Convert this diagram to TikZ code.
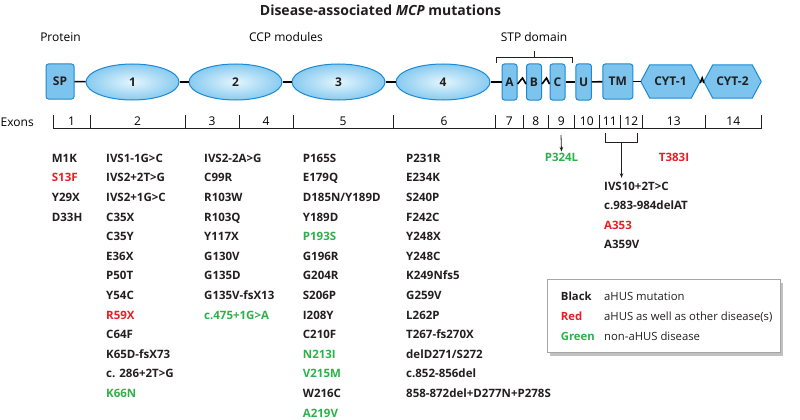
\documentclass[tikz,border=0pt]{standalone}
\usepackage{fontspec}
\setmainfont{Open Sans}
\usetikzlibrary{shapes.geometric,shadows,arrows.meta,backgrounds}
\definecolor{txt}{HTML}{231F20}
\definecolor{mred}{HTML}{ED1C24}
\definecolor{mgreen}{HTML}{2DB24A}
\definecolor{bline}{HTML}{1B8AD3}
\definecolor{bfill}{HTML}{7CC4EE}
\definecolor{ein}{HTML}{E4F5FD}
\definecolor{eout}{HTML}{88CBF0}
\begin{document}
\begin{tikzpicture}[x=1pt,y=-1pt,
  mut/.style={anchor=west,inner sep=0pt,text height=8pt,text depth=0pt,font=\fontsize{11.5}{13}\selectfont\bfseries,text=txt},
  lab/.style={inner sep=0pt,text height=8.5pt,text depth=0pt,font=\fontsize{12}{14}\selectfont,text=black},
  dom/.style={draw=bline,fill=bfill,line width=1pt,rounded corners=2.5pt,inner sep=0pt,minimum height=36pt,font=\fontsize{12}{14}\selectfont\bfseries,text=txt},
  ccp/.style={ellipse,draw=bline,line width=1pt,inner color=ein,outer color=eout,minimum width=93pt,minimum height=36pt,inner sep=0pt,font=\fontsize{12}{14}\selectfont\bfseries,text=txt},
  hexn/.style={inner sep=0pt,minimum width=59pt,minimum height=33pt,font=\fontsize{12}{14}\selectfont\bfseries,text=txt},
  hexpath/.style={draw=bline,fill=bfill,line width=1pt,line join=round},
  bb/.style={line width=1.6pt,black},
  exl/.style={line width=0.9pt,txt},
  brk/.style={line width=0.8pt,txt},
  arr/.style={line width=0.8pt,txt,-{Stealth[length=4.5pt,width=3.5pt]}},
  legbox/.style={draw=black!35,fill=white,line width=0.6pt,minimum width=233pt,minimum height=73pt,inner sep=0pt,
    drop shadow={shadow xshift=2.5pt,shadow yshift=-3pt,fill=black!40,opacity=0.6}},
  legk/.style={anchor=west,inner sep=0pt,text height=8pt,text depth=0pt,font=\fontsize{11.3}{13}\selectfont\bfseries},
  legt/.style={anchor=west,inner sep=0pt,text height=8pt,text depth=0pt,font=\fontsize{11.3}{13}\selectfont,text=txt}
]
\begin{pgfonlayer}{background}
\fill[white] (0,0) rectangle (800,420);
\end{pgfonlayer}
\useasboundingbox (0,0) rectangle (800,420);

% title and headings
\node[inner sep=0pt,font=\fontsize{14}{16}\selectfont\bfseries,text=txt] (title) at (380.5,10) {Disease-associated \textit{MCP} mutations};
\node[lab] (hprot) at (60.5,37) {Protein};
\node[lab] (hccp) at (286,37) {CCP modules};
\node[lab] (hstp) at (534,37) {STP domain};

% protein domains
\node[dom,minimum width=28pt,minimum height=35pt] (sp) at (60,81.5) {SP};
\node[ccp] (e1) at (132.5,82) {1};
\node[ccp] (e2) at (235.5,82) {2};
\node[ccp] (e3) at (338.5,82) {3};
\node[ccp,minimum width=94pt] (e4) at (443,82) {4};
\node[dom,minimum width=15pt] (A) at (509.5,82) {A};
\node[dom,minimum width=15pt] (B) at (534,82) {B};
\node[dom,minimum width=15pt] (C) at (557.5,82) {C};
\node[dom,minimum width=15.5pt] (U) at (583.7,82) {U};
\node[dom,minimum width=30pt,minimum height=35pt] (TM) at (617.8,81.5) {TM};
\node[hexn] (cyt1) at (670.5,81.5) {CYT-1};
\node[hexn,minimum width=57pt] (cyt2) at (732.5,81.5) {CYT-2};
\begin{pgfonlayer}{background}
\path[hexpath] (cyt1.west) -- ([xshift=9pt]cyt1.north west) -- ([xshift=-9pt]cyt1.north east) -- (cyt1.east)
  -- ([xshift=-9pt]cyt1.south east) -- ([xshift=9pt]cyt1.south west) -- cycle;
\path[hexpath] (cyt2.west) -- ([xshift=9pt]cyt2.north west) -- ([xshift=-9pt]cyt2.north east) -- (cyt2.east)
  -- ([xshift=-9pt]cyt2.south east) -- ([xshift=9pt]cyt2.south west) -- cycle;
\end{pgfonlayer}

% backbone
\draw[bb] (sp) -- (e1);
\draw[bb] (e1) -- (e2);
\draw[bb] (e2) -- (e3);
\draw[bb] (e3) -- (e4);
\draw[bb] (e4) -- (A);
\draw[bb] (C) -- (U);
\draw[bb] (U) -- (TM);
\draw[bb] (TM.east) -- (cyt1.west);
\draw[bb,line join=miter] ([yshift=-2pt]A.east) -- ++(5,-6) -- ([yshift=-2pt]B.west);
\draw[bb,line join=miter] ([yshift=-2pt]B.east) -- ++(4.5,-6) -- ([yshift=-2pt]C.west);
\draw[bb,line join=miter] ([yshift=-1.5pt]cyt1.east) -- ++(2,-5) -- ([yshift=-1.5pt]cyt2.west);

% STP bracket
\coordinate (stpL) at (496,63);
\coordinate (stpR) at (572,63);
\coordinate (stpM) at (534,57);
\draw[brk] (stpL) -- (496,57) -- (572,57) -- (stpR);
\draw[brk] (stpM) -- (534,51);

% exons
\node[lab,anchor=west] (exons) at (0.5,122.5) {Exons};
\draw[exl] (53,128) -- (761.5,128);
\foreach \x in {53,90,185,239,293,393,495.5,523,548.5,574,599.5,620,642.5,705,761.5}
  \draw[exl] (\x,115) -- (\x,128);
\foreach \p [count=\i] in {71.5,137.5,212,266,343,444,509.3,535.7,561.3,586.8,609.8,631.3,673.8,733.3}
  \node[lab] (ex\i) at (\p,121.5) {\i};

% exon 9 arrow
\coordinate (a9) at (561,135);
\node[mut,anchor=center,text=mgreen] (p324) at (561.5,157.7) {P324L};
\draw[arr] (a9) -- ([yshift=2pt]p324.north);
% exon 11-12 bracket
\coordinate (b11) at (605,133);
\coordinate (b12) at (637,133);
\coordinate (bm) at (621.5,142);
\draw[brk] (b11) -- (605,142) -- (637,142) -- (b12);
\node[mut,anchor=center,text=mred] (t383) at (674,157.7) {T383I};

% mutation columns
\foreach \t/\c [count=\k from 0] in {M1K/txt,S13F/mred,Y29X/txt,D33H/txt}
  \node[mut,text=\c] (ma\k) at (51.7,158.3+19.6*\k) {\t};
\foreach \t/\c [count=\k from 0] in {IVS1-1G>C/txt,IVS2+2T>G/txt,IVS2+1G>C/txt,C35X/txt,C35Y/txt,E36X/txt,P50T/txt,Y54C/txt,R59X/mred,C64F/txt,K65D-fsX73/txt,{c. 286+2T>G}/txt,K66N/mgreen}
  \node[mut,text=\c] (mb\k) at (106,158.3+19.6*\k) {\t};
\foreach \t/\c [count=\k from 0] in {IVS2-2A>G/txt,C99R/txt,R103W/txt,R103Q/txt,Y117X/txt,G130V/txt,G135D/txt,G135V-fsX13/txt,c.475+1G>A/mgreen}
  \node[mut,text=\c] (mc\k) at (204,158.3+19.6*\k) {\t};
\foreach \t/\c [count=\k from 0] in {P165S/txt,E179Q/txt,{D185N/Y189D}/txt,Y189D/txt,P193S/mgreen,G196R/txt,G204R/txt,S206P/txt,I208Y/txt,C210F/txt,N213I/mgreen,V215M/mgreen,W216C/txt,A219V/mgreen}
  \node[mut,text=\c] (md\k) at (302.7,158.3+19.6*\k) {\t};
\foreach \t/\c [count=\k from 0] in {P231R/txt,E234K/txt,S240P/txt,F242C/txt,Y248X/txt,Y248C/txt,K249Nfs5/txt,G259V/txt,L262P/txt,T267-fs270X/txt,{delD271/S272}/txt,c.852-856del/txt,858-872del+D277N+P278S/txt}
  \node[mut,text=\c] (me\k) at (406,158.3+19.6*\k) {\t};
\foreach \t/\c [count=\k from 0] in {IVS10+2T>C/txt,c.983-984delAT/txt,A353/mred,A359V/txt}
  \node[mut,text=\c] (mf\k) at (604,186+19.6*\k) {\t};
\draw[arr] (bm) -- ([yshift=4pt]mf0.north -| bm);

% legend
\node[legbox] (leg) at (664,316) {};
\node[legk,text=txt] (lk1) at (560.7,296.7) {Black};
\node[legk,text=mred] (lk2) at (560.7,316.5) {Red};
\node[legk,text=mgreen] (lk3) at (560.7,336) {Green};
\node[legt] (lt1) at (604,296.7) {aHUS mutation};
\node[legt] (lt2) at (604,316.5) {aHUS as well as other disease(s)};
\node[legt] (lt3) at (604,336) {non-aHUS disease};
\end{tikzpicture}
\end{document}
